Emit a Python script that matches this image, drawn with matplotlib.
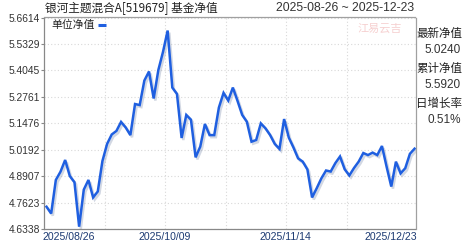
import numpy as np
import matplotlib
matplotlib.use("Agg")
import matplotlib.pyplot as plt
import matplotlib.patheffects as pe

plt.rcParams['font.family'] = ['Noto Sans CJK SC', 'DejaVu Sans']

# 单位净值, 2025-08-26 ~ 2025-12-23 (交易日)
nav = [4.742, 4.709, 4.872, 4.912, 4.969, 4.891, 4.861, 4.645, 4.825, 4.872,
       4.787, 4.816, 4.964, 5.047, 5.093, 5.110, 5.154, 5.127, 5.090, 5.241,
       5.236, 5.355, 5.399, 5.268, 5.406, 5.494, 5.598, 5.321, 5.290, 5.076,
       5.188, 5.165, 4.982, 5.034, 5.144, 5.090, 5.090, 5.224, 5.295, 5.258,
       5.321, 5.256, 5.188, 5.155, 5.058, 5.066, 5.147, 5.123, 5.090, 5.047,
       5.023, 5.168, 5.078, 5.030, 4.977, 4.961, 4.923, 4.787, 4.832, 4.880,
       4.918, 4.913, 4.954, 4.986, 4.924, 4.894, 4.930, 4.961, 5.003, 4.993,
       5.005, 4.993, 5.037, 4.936, 4.840, 4.961, 4.904, 4.929, 4.999, 5.024]

y_ticks = [4.6338, 4.7623, 4.8907, 5.0192, 5.1476, 5.2761, 5.4045, 5.5329, 5.6614]
x_labels = ['2025/08/26', '2025/10/09', '2025/11/14', '2025/12/23']
x_label_idx = [0, 26, 52, 79]

title = '银河主题混合A[519679] 基金净值'
date_range = '2025-08-26 ~ 2025-12-23'
side_info = [('最新净值', '5.0240'), ('累计净值', '5.5920'), ('日增长率', '0.51%')]

W, H = 463, 242
fig = plt.figure(figsize=(W / 100, H / 100), dpi=100)
ax = fig.add_axes([44 / W, 1 - 229 / H, 371.5 / W, 211.5 / H])

x = np.arange(len(nav))
ax.plot(x, nav, color='#1f5fe0', lw=1.8, solid_joinstyle='miter',
        path_effects=[pe.SimpleLineShadow(offset=(1.2, -1.5), shadow_color='#8090b0', alpha=0.35),
                      pe.Normal()])

ax.set_xlim(-0.54, 79.2)
ax.set_ylim(y_ticks[0], y_ticks[-1])
ax.set_yticks(y_ticks)
ax.set_yticklabels([f'{v:.4f}' for v in y_ticks], family='Liberation Sans', fontsize=7.4, color='#333333')
ax.tick_params(axis='y', length=2, pad=1, color='#888888')

# vertical grid lines every 13 trading days
ax.set_xticks(np.arange(1, 6) * 13 - 0.5)
ax.set_xticklabels([])
ax.tick_params(axis='x', length=0)
ax.grid(True, color='#d8d8d8', ls=(0, (1, 2)), lw=0.8)

for s in ax.spines.values():
    s.set_color('#a0a0a0')
    s.set_linewidth(0.9)
ax.spines['left'].set_color('#888888')
ax.spines['bottom'].set_color('#888888')

# x axis date labels
aligns = ['left', 'center', 'center', 'right']
for lab, idx, ha in zip(x_labels, x_label_idx, aligns):
    xp = idx - 0.7
    if ha == 'left':
        xp = -0.9
    if ha == 'right':
        xp = 79.6
    ax.text(xp, -0.012, lab, transform=ax.get_xaxis_transform(), ha=ha, va='top',
            family='Liberation Sans', fontsize=7.6, color='#1c3a72')

# legend
ax.text(0.02, 0.966, '单位净值', transform=ax.transAxes, ha='left', va='center', fontsize=7.8, color='#222222')
ax.plot([0.146, 0.167], [0.966, 0.966], transform=ax.transAxes, color='#1f5fe0', lw=2.2, solid_capstyle='butt')

# watermark
ax.text(0.965, 0.945, '江易云吉', transform=ax.transAxes, ha='right', va='center', fontsize=8,
        color='#f4c4c4', alpha=0.8, style='italic')

fig.text(45 / W, 1 - 8 / H, title, ha='left', va='center', fontsize=8.4, color='#222222')
fig.text(414 / W, 1 - 8 / H, date_range, ha='right', va='center', family='Liberation Sans',
         fontsize=8.8, color='#333333')

ys = [33, 68.5, 103]
for (lab, val), yy in zip(side_info, ys):
    fig.text(462 / W, 1 - yy / H, lab, ha='right', va='center', fontsize=8.3, color='#222222')
    fig.text(461 / W, 1 - (yy + 17) / H, val, ha='right', va='center', family='Liberation Sans',
             fontsize=8.5, color='#333333')

fig.savefig('out.png', dpi=100)
